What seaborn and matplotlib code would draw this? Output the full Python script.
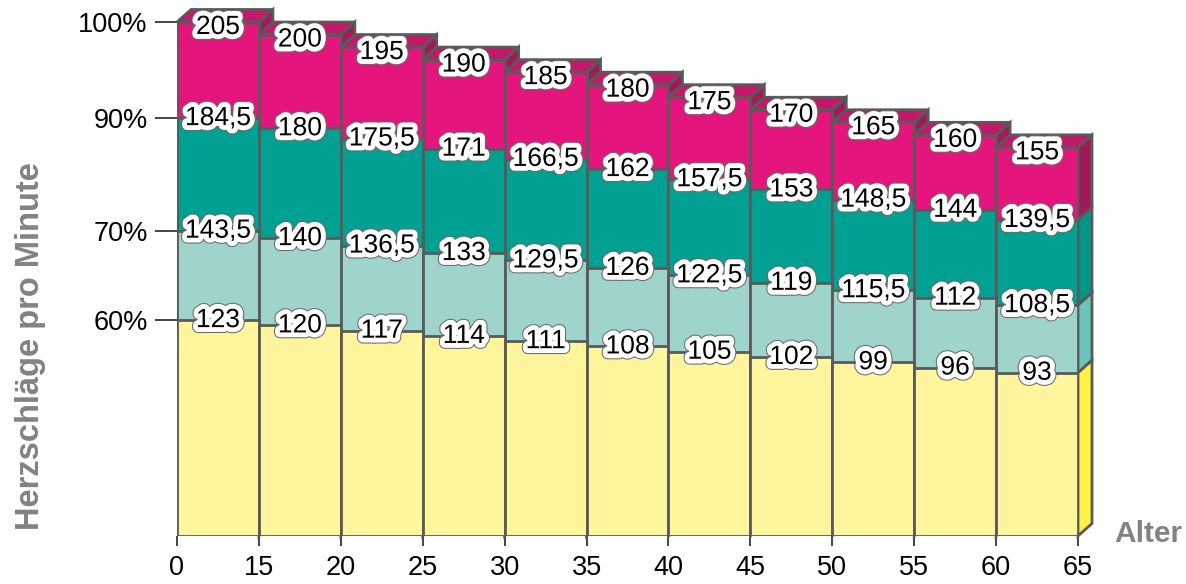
import numpy as np
import pandas as pd
import matplotlib
matplotlib.use("Agg")
import matplotlib.pyplot as plt
import matplotlib.patheffects as pe
from matplotlib.patches import Polygon
import seaborn as sns

# age limits on the x axis, one bar per age group
age_edges = [0, 15, 20, 25, 30, 35, 40, 45, 50, 55, 60, 65]
age_groups = ["0-15", "15-20", "20-25", "25-30", "30-35", "35-40",
              "40-45", "45-50", "50-55", "55-60", "60-65"]

# heart rate (beats per minute) at 100%, 90%, 70% and 60% of the maximum
hr_100 = [205, 200, 195, 190, 185, 180, 175, 170, 165, 160, 155]
hr_90 = [184.5, 180, 175.5, 171, 166.5, 162, 157.5, 153, 148.5, 144, 139.5]
hr_70 = [143.5, 140, 136.5, 133, 129.5, 126, 122.5, 119, 115.5, 112, 108.5]
hr_60 = [123, 120, 117, 114, 111, 108, 105, 102, 99, 96, 93]

zone_labels = ["100%", "90%", "70%", "60%"]

# the graphic is schematic: bar height follows the max rate, but the zone
# borders are drawn at these fractions of the bar height
zone_drawn = [1.0, 0.813, 0.594, 0.42]

front_colors = ["#e5157e", "#00a192", "#9fd4cc", "#fff59c"]
side_colors = ["#9e1b57", "#00968a", "#6cc3b8", "#fff244"]
top_color = "#c4186c"
edge = "#5a5a5a"

df = pd.DataFrame({"age": age_groups, "hr_100": hr_100, "hr_90": hr_90,
                   "hr_70": hr_70, "hr_60": hr_60})
zones = ["hr_100", "hr_90", "hr_70", "hr_60"]
for z, f in zip(zones, zone_drawn):
    df["h_" + z] = df["hr_100"] * f

sns.set_theme(style="ticks")
plt.rcParams["font.family"] = ["Liberation Sans", "DejaVu Sans"]

W, H = 1186, 584
fig = plt.figure(figsize=(W / 100, H / 100), dpi=100)
ax_left, ax_right, ax_bottom = 177, 1078, 536
ax = fig.add_axes([ax_left / W, (H - ax_bottom) / H,
                   (ax_right - ax_left) / W, ax_bottom / H])

# px per beat so the 205 bar reaches 100% line at y=22px
px_per_unit = (ax_bottom - 22) / hr_100[0]

# fronts, tallest zone first so the lower zones sit on top
for z, c in zip(zones, front_colors):
    sns.barplot(data=df, x="age", y="h_" + z, color=c, saturation=1,
                width=1, edgecolor=edge, linewidth=2, errorbar=None,
                zorder=3, ax=ax)
ax.set_xlim(-0.5, len(age_groups) - 0.5)
ax.set_ylim(0, ax_bottom / px_per_unit)

# 3D depth: side faces and top faces
px_per_x = (ax_right - ax_left) / len(age_groups)
dx = 14 / px_per_x
dy = 12.5 / px_per_unit
for i, row in df.iterrows():
    R = i + 0.5
    L = i - 0.5
    levels = [row["h_" + z] for z in zones] + [0]
    for k in range(4):
        hi, lo = levels[k], levels[k + 1]
        ax.add_patch(Polygon([(R, lo), (R + dx, lo + dy), (R + dx, hi + dy), (R, hi)],
                             closed=True, facecolor=side_colors[k], edgecolor=edge,
                             linewidth=2, zorder=1, clip_on=False))
    top = levels[0]
    ax.add_patch(Polygon([(L, top), (R, top), (R + dx, top + dy), (L + dx, top + dy)],
                         closed=True, facecolor=top_color, edgecolor=edge,
                         linewidth=2, zorder=2, clip_on=False))

# value labels with white halo
halo = [pe.Stroke(linewidth=8.5, foreground="#6a6a6a"),
        pe.Stroke(linewidth=7, foreground="white"), pe.Normal()]
for i, row in df.iterrows():
    for k, z in enumerate(zones):
        v = row[z]
        txt = f"{v:g}".replace(".", ",")
        y = row["h_" + z]
        if k == 0:
            y -= 5 / px_per_unit
        ax.text(i, y, txt, ha="center", va="center", fontsize=19,
                color="black", zorder=6, path_effects=halo)

# axes
ax.set_yticks([hr_100[0] * f for f in zone_drawn])
ax.set_yticklabels(zone_labels)
ax.set_xticks(np.arange(len(age_edges)) - 0.5)
ax.set_xticklabels([str(a) for a in age_edges])
ax.tick_params(axis="y", length=16, width=1.4, color="#444444", pad=5,
               labelsize=19.5, labelcolor="black")
ax.tick_params(axis="x", length=7, width=1.4, color="#444444", pad=7,
               labelsize=19.5, labelcolor="black")
sns.despine(ax=ax, left=True, bottom=True)
ax.set_xlabel("")
ax.set_ylabel("")

fig.text(31 / W, 1 - 346 / H, "Herzschläge pro Minute", rotation=90,
         ha="center", va="center", fontsize=23.5, fontweight="bold", color="#808285")
fig.text(1114 / W, 1 - 534 / H, "Alter", ha="left", va="center",
         fontsize=21.5, fontweight="bold", color="#808285")

fig.savefig("out.png", dpi=100)
